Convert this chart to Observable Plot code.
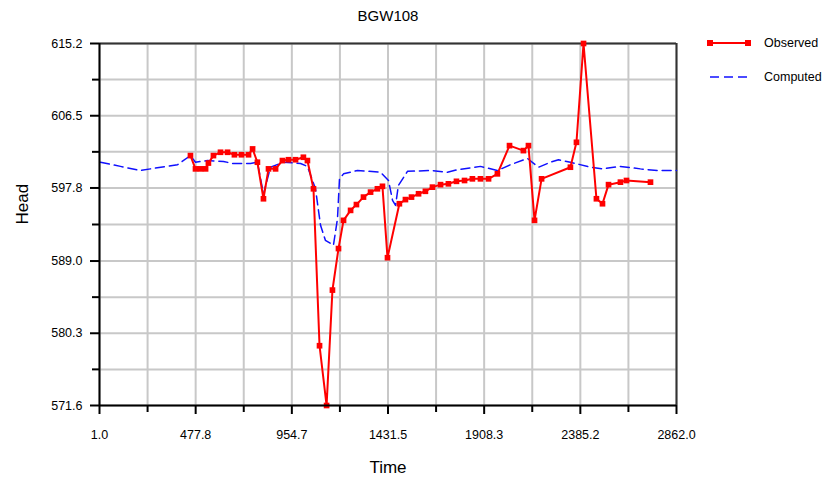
<!DOCTYPE html>
<html><head><meta charset="utf-8">
<script src="https://cdn.jsdelivr.net/npm/d3@7"></script>
<script src="https://cdn.jsdelivr.net/npm/@observablehq/plot@0.6"></script>
<style>
body{margin:0;background:#fff;font-family:"Liberation Sans",Arial,sans-serif;}
#chart{position:relative;width:834px;height:480px}
</style>
</head><body><div id="chart"></div>
<script>
const title = "BGW108";
const xLabel = "Time";
const yLabel = "Head";
const seriesNames = ["Observed", "Computed"];

const obsTime = [452,477,502,527,541,566,601,636,670,705,740,760,784,814,839,874,908,938,973,1012,1032,1062,1092,1127,1156,1186,1211,1246,1275,1310,1345,1379,1404,1429,1488,1518,1548,1583,1617,1652,1692,1731,1771,1811,1850,1890,1930,1974,2034,2103,2128,2158,2193,2336,2366,2401,2465,2495,2525,2584,2614,2733];
const obsHead = [601.7,600.1,600.1,600.1,600.8,601.7,602.1,602.1,601.8,601.8,601.8,602.5,600.9,596.5,600.1,600.1,601.1,601.2,601.2,601.5,601.1,597.7,578.8,571.6,585.5,590.5,593.9,595.1,595.8,596.7,597.3,597.7,598.0,589.4,595.9,596.4,596.7,597.1,597.4,597.9,598.2,598.3,598.6,598.7,598.9,598.9,598.9,599.5,602.9,602.3,602.9,593.9,598.9,600.3,603.3,615.2,596.5,595.9,598.2,598.5,598.7,598.5];

const compTime = [6,105,204,254,388,452,477,536,616,660,750,784,814,849,913,998,1032,1072,1097,1121,1161,1181,1191,1211,1280,1394,1434,1454,1469,1483,1528,1642,1726,1776,1890,1974,2039,2123,2178,2237,2277,2336,2435,2495,2584,2683,2767,2862];
const compHead = [600.9,600.4,599.9,600.1,600.6,601.7,600.9,601.1,601.0,600.75,600.75,600.9,597.1,600.3,600.9,600.75,600.4,597.7,593.3,591.5,590.9,594.1,598.9,599.5,599.9,599.7,598.7,596.3,595.7,598.1,599.8,599.9,599.7,600.0,600.4,599.9,600.6,601.35,600.3,600.9,601.2,600.9,600.3,600.1,600.4,600.1,599.9,599.9];

const xTicks = [1.0, 477.8, 954.7, 1431.5, 1908.3, 2385.2, 2862.0];
const xMinor = [239.4, 716.25, 1193.1, 1669.9, 2146.75, 2623.6];
const yTicks = [571.6, 580.3, 589.0, 597.8, 606.5, 615.2];
const yMinor = [575.95, 584.65, 593.4, 602.15, 610.85];

const obs = obsTime.map((t, i) => ({t, h: obsHead[i]}));
const comp = compTime.map((t, i) => ({t, h: compHead[i]}));

const chart = Plot.plot({
  width: 834, height: 480,
  marginLeft: 99, marginRight: 158, marginTop: 43, marginBottom: 75,
  style: {fontFamily: '"Liberation Sans", Arial, sans-serif', background: "#fff", color: "#000"},
  x: {domain: [1, 2862], axis: null},
  y: {domain: [571.6, 615.2], axis: null},
  marks: [
    Plot.gridX([...xTicks, ...xMinor], {stroke: "#c8c8c8", strokeOpacity: 1, strokeWidth: 2}),
    Plot.gridY([...yTicks, ...yMinor], {stroke: "#c8c8c8", strokeOpacity: 1, strokeWidth: 2}),
    Plot.ruleY([615.2], {stroke: "#333", strokeWidth: 2}),
    Plot.ruleX([2862], {stroke: "#333", strokeWidth: 2}),
    Plot.line(comp, {x: "t", y: "h", stroke: "#1010ff", strokeWidth: 1.5, strokeDasharray: "9,5"}),
    Plot.line(obs, {x: "t", y: "h", stroke: "#ff0000", strokeWidth: 2}),
    Plot.dot(obs, {x: "t", y: "h", symbol: "square", r: 3.2, fill: "#ff0000", stroke: "none"}),
    Plot.axisX(xTicks, {anchor: "bottom", tickSize: 9, tickPadding: 16, fontSize: 12.5, tickFormat: d => d.toFixed(1), stroke: "#000", strokeWidth: 2, label: null}),
    Plot.axisX(xMinor, {anchor: "bottom", tickSize: 7, tickFormat: () => "", stroke: "#000", strokeWidth: 2, label: null}),
    Plot.axisY(yTicks, {anchor: "left", tickSize: 9, tickPadding: 8, fontSize: 12.5, tickFormat: d => d.toFixed(1), stroke: "#000", strokeWidth: 2, label: null}),
    Plot.axisY(yMinor, {anchor: "left", tickSize: 7, tickFormat: () => "", stroke: "#000", strokeWidth: 2, label: null}),
    Plot.ruleY([571.6], {stroke: "#000", strokeWidth: 2}),
    Plot.ruleX([1], {stroke: "#000", strokeWidth: 2}),
    Plot.text([title], {frameAnchor: "top", lineAnchor: "middle", dy: -27, fontSize: 15, fill: "#000"}),
    Plot.text([xLabel], {frameAnchor: "bottom", lineAnchor: "middle", dy: 62, fontSize: 17, fill: "#000"}),
    Plot.text([yLabel], {frameAnchor: "left", dx: -77, rotate: -90, fontSize: 17, fill: "#000"})
  ]
});
document.getElementById("chart").appendChild(chart);

// Legend in the right margin
const svg = d3.select(chart);
const leg = svg.append("g").attr("font-family", '"Liberation Sans", Arial, sans-serif').attr("font-size", 12.5).attr("text-anchor", "start");
leg.append("line").attr("x1", 710).attr("x2", 748).attr("y1", 43).attr("y2", 43).attr("stroke", "#ff0000").attr("stroke-width", 2);
leg.append("rect").attr("x", 707).attr("y", 40).attr("width", 6).attr("height", 6).attr("fill", "#ff0000");
leg.append("rect").attr("x", 745).attr("y", 40).attr("width", 6).attr("height", 6).attr("fill", "#ff0000");
leg.append("text").attr("x", 764).attr("y", 47).attr("text-anchor", "start").attr("fill", "#000").text(seriesNames[0]);
leg.append("line").attr("x1", 710).attr("x2", 750).attr("y1", 77).attr("y2", 77).attr("stroke", "#1010ff").attr("stroke-width", 1.5).attr("stroke-dasharray", "9,5");
leg.append("text").attr("x", 764).attr("y", 81).attr("text-anchor", "start").attr("fill", "#000").text(seriesNames[1]);
</script>
</body></html>
